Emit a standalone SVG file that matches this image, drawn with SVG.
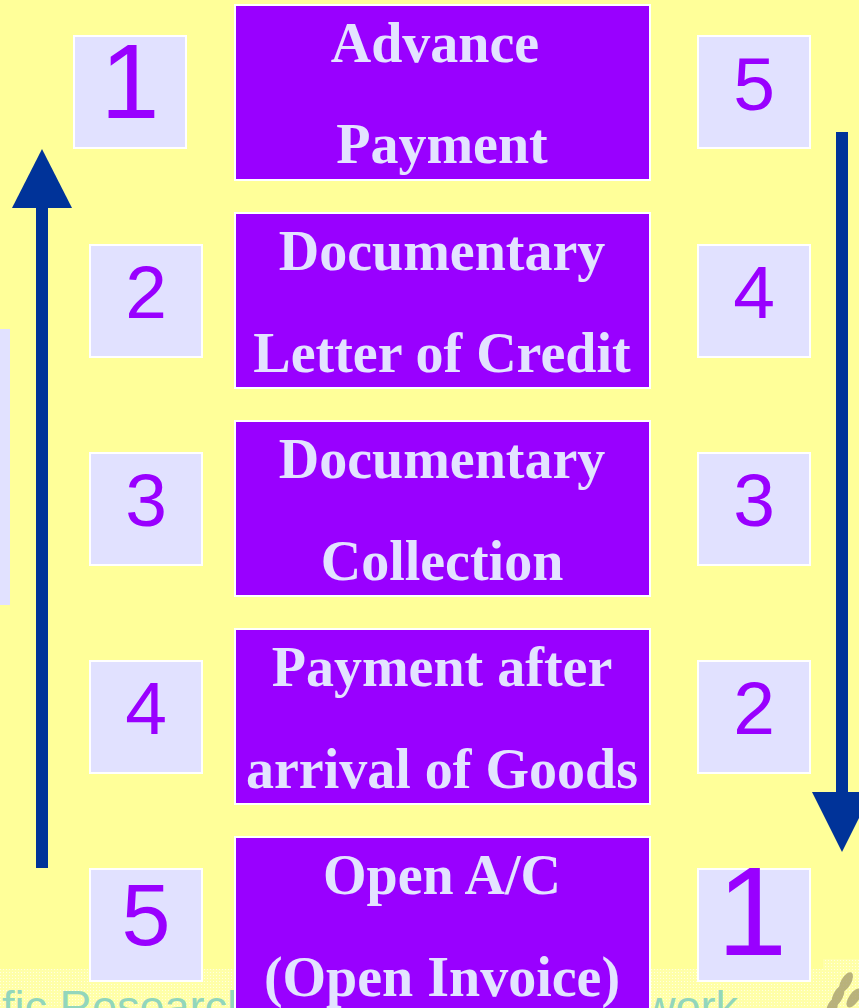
<svg xmlns="http://www.w3.org/2000/svg" width="859" height="1008" viewBox="0 0 859 1008">
<defs>
<style>
.bg{fill:#FFFF99}
.main{fill:#9900FF;stroke:#FFFFFF;stroke-width:2}
.num{fill:#E1E1FF;stroke:#FFFFFF;stroke-width:2}
.lbl{font-family:"Liberation Serif","Times New Roman",serif;font-weight:bold;font-size:56px;fill:#E3E3FF;text-anchor:middle}
.dig{font-family:"Liberation Sans",Arial,sans-serif;font-size:75px;fill:#9900FF;text-anchor:middle}
.arrow{fill:#003399}
.wm{font-family:"Liberation Sans",Arial,sans-serif;font-size:45px;fill:#92D6BC}
</style>
<pattern id="dots" width="3" height="3" patternUnits="userSpaceOnUse">
<rect width="3" height="3" fill="#FFFFA8"/>
<rect width="1" height="1" fill="#FFFFE0"/>
</pattern>
</defs>
<rect class="bg" x="0" y="0" width="859" height="1008"/>
<g id="footer">
<rect x="0" y="969" width="859" height="39" fill="url(#dots)"/>
<rect x="823" y="959" width="36" height="10" fill="url(#dots)"/>
<text class="wm" x="2" y="1022">fic Research</text>
<text class="wm" x="738" y="1022" text-anchor="end">work</text>
<g fill="#A8A070" opacity="0.8">
<ellipse cx="846" cy="982" rx="5" ry="11" transform="rotate(30 846 982)"/>
<ellipse cx="838" cy="996" rx="5" ry="11" transform="rotate(25 838 996)"/>
<ellipse cx="854" cy="998" rx="5" ry="11" transform="rotate(35 854 998)"/>
<ellipse cx="832" cy="1008" rx="5" ry="10" transform="rotate(20 832 1008)"/>
</g>
</g>
<rect id="side-strip" x="0" y="329" width="10" height="276" fill="#E1E1FF"/>
<g id="connectors">
<g id="arrow-up">
<rect class="arrow" x="36" y="206" width="12" height="662"/>
<polygon class="arrow" points="12,208 42,149 72,208"/>
</g>
<g id="arrow-down">
<rect class="arrow" x="836" y="132" width="12" height="662"/>
<polygon class="arrow" points="812,792 872,792 842,852"/>
</g>
</g>
<g id="node-advance">
<rect class="main" x="235" y="5" width="415" height="175"/>
<text class="lbl" x="435" y="62">Advance</text>
<text class="lbl" x="442" y="163">Payment</text>
</g>
<g id="node-lc">
<rect class="main" x="235" y="213" width="415" height="175"/>
<text class="lbl" x="442" y="270">Documentary</text>
<text class="lbl" x="442" y="372">Letter of Credit</text>
</g>
<g id="node-dc">
<rect class="main" x="235" y="421" width="415" height="175"/>
<text class="lbl" x="442" y="478">Documentary</text>
<text class="lbl" x="442" y="580">Collection</text>
</g>
<g id="node-pag">
<rect class="main" x="235" y="629" width="415" height="175"/>
<text class="lbl" x="442" y="686">Payment after</text>
<text class="lbl" x="442" y="788">arrival of Goods</text>
</g>
<g id="node-oa">
<rect class="main" x="235" y="837" width="415" height="180"/>
<text class="lbl" x="442" y="894">Open A/C</text>
<text class="lbl" x="442" y="996">(Open Invoice)</text>
</g>
<g id="left-1"><rect class="num" x="74" y="36" width="112" height="112"/><text class="dig" x="130" y="118" style="font-size:106px">1</text></g>
<g id="left-2"><rect class="num" x="90" y="245" width="112" height="112"/><text class="dig" x="146" y="318">2</text></g>
<g id="left-3"><rect class="num" x="90" y="453" width="112" height="112"/><text class="dig" x="146" y="526">3</text></g>
<g id="left-4"><rect class="num" x="90" y="661" width="112" height="112"/><text class="dig" x="146" y="734">4</text></g>
<g id="left-5"><rect class="num" x="90" y="869" width="112" height="112"/><text class="dig" x="146" y="945" style="font-size:88px">5</text></g>
<g id="right-5"><rect class="num" x="698" y="36" width="112" height="112"/><text class="dig" x="754" y="110">5</text></g>
<g id="right-4"><rect class="num" x="698" y="245" width="112" height="112"/><text class="dig" x="754" y="318">4</text></g>
<g id="right-3"><rect class="num" x="698" y="453" width="112" height="112"/><text class="dig" x="754" y="526">3</text></g>
<g id="right-2"><rect class="num" x="698" y="661" width="112" height="112"/><text class="dig" x="754" y="734">2</text></g>
<g id="right-1"><rect class="num" x="698" y="869" width="112" height="112"/><text class="dig" x="752" y="955" style="font-size:126px">1</text></g>
</svg>
